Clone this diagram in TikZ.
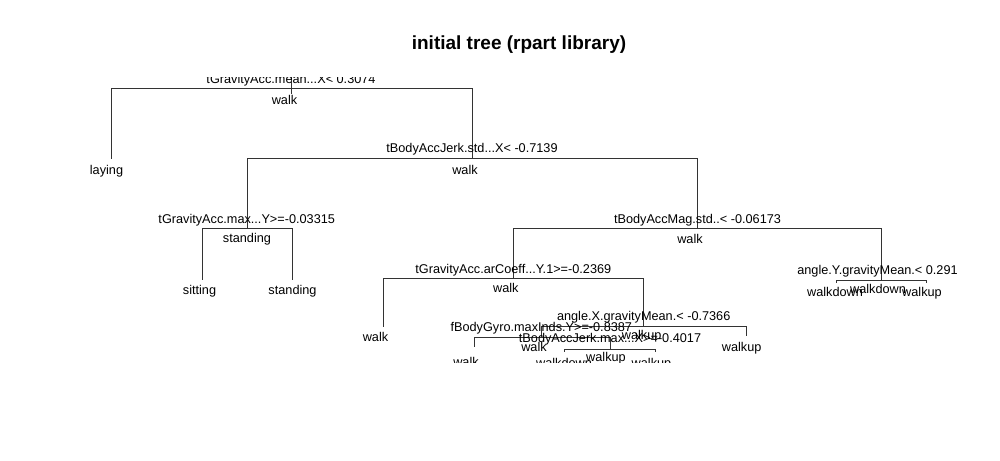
\documentclass[tikz,border=0pt]{standalone}
\usepackage{fontspec}
\setmainfont{Liberation Sans}
\begin{document}
\begin{tikzpicture}[x=1pt,y=-1pt,
  branch/.style={draw=black!80,line width=0.8pt},
  lbl/.style={anchor=base,inner sep=0pt,outer sep=0pt,font=\fontsize{12.7pt}{15pt}\selectfont},
  ttl/.style={anchor=base,inner sep=0pt,font=\fontsize{19pt}{22pt}\selectfont\bfseries}]
\useasboundingbox[fill=white] (0,0) rectangle (1000,460);
\node[ttl] (title) at (519,49.5) {initial tree (rpart library)};
\begin{scope}
\clip (0,77.7) rectangle (1000,362.7);
% node points
\coordinate (rootTop) at (291,70);
\coordinate (rootBot) at (291,94);
\coordinate (n1) at (291,88.3);
\coordinate (n2) at (111,158.5);
\coordinate (n3) at (472.3,158.5);
\coordinate (n6) at (247,228.5);
\coordinate (n7) at (697.7,228.5);
\coordinate (n12) at (202,280);
\coordinate (n13) at (292.7,280);
\coordinate (n14) at (513.3,278);
\coordinate (n15) at (881.7,280);
\coordinate (n28) at (383,327);
\coordinate (n29) at (643.5,326);
\coordinate (n30) at (836.7,283);
\coordinate (n31) at (926.7,283);
\coordinate (n58) at (541,337.5);
\coordinate (n59) at (746,336);
\coordinate (n116) at (474,347);
\coordinate (n117) at (610,349);
\coordinate (n234) at (564,352);
\coordinate (n235) at (655,352);
% branches
\draw[branch] (rootTop) -- (rootBot);
\draw[branch] (n1) -| (n2);
\draw[branch] (n1) -| (n3);
\draw[branch] (n3) -| (n6);
\draw[branch] (n3) -| (n7);
\draw[branch] (n6) -| (n12);
\draw[branch] (n6) -| (n13);
\draw[branch] (n7) -| (n14);
\draw[branch] (n7) -| (n15);
\draw[branch] (n14) -| (n28);
\draw[branch] (n14) -| (n29);
\draw[branch] (n15) -| (n30);
\draw[branch] (n15) -| (n31);
\draw[branch] (n29) -| (n58);
\draw[branch] (n29) -| (n59);
\draw[branch] (n58) -| (n116);
\draw[branch] (n58) -| (n117);
\draw[branch] (n117) -| (n234);
\draw[branch] (n117) -| (n235);
% split labels
\node[lbl] (s1) at (291,83.5) {tGravityAcc.mean...X< 0.3074};
\node[lbl] (s3) at (472,152.5) {tBodyAccJerk.std...X< -0.7139};
\node[lbl] (s6) at (246.7,223) {tGravityAcc.max...Y>=-0.03315};
\node[lbl] (s7) at (697.5,223) {tBodyAccMag.std..< -0.06173};
\node[lbl] (s14) at (513.3,273) {tGravityAcc.arCoeff...Y.1>=-0.2369};
\node[lbl] (s15) at (877.5,274.3) {angle.Y.gravityMean.< 0.291};
\node[lbl] (s29) at (643.7,320.7) {angle.X.gravityMean.< -0.7366};
\node[lbl] (s58) at (541.3,331.5) {fBodyGyro.maxInds.Y>=-0.8387};
\node[lbl] (s117) at (610,342) {tBodyAccJerk.max...X>=-0.4017};
% class labels
\node[lbl] (c1) at (284.5,104.5) {walk};
\node[lbl] (c2) at (106.5,174) {laying};
\node[lbl] (c3) at (465,174) {walk};
\node[lbl] (c6) at (247,242.5) {standing};
\node[lbl] (c7) at (690,243.3) {walk};
\node[lbl] (c12) at (199.5,294) {sitting};
\node[lbl] (c13) at (292.5,294) {standing};
\node[lbl] (c14) at (505.8,292.5) {walk};
\node[lbl] (c15) at (878,293.5) {walkdown};
\node[lbl] (c30) at (835,296.5) {walkdown};
\node[lbl] (c31) at (922,296.5) {walkup};
\node[lbl] (c28) at (375.5,341.5) {walk};
\node[lbl] (c29) at (641.7,339) {walkup};
\node[lbl] (c59) at (741.7,351) {walkup};
\node[lbl] (c58) at (534,351.5) {walk};
\node[lbl] (c116) at (466,366) {walk};
\node[lbl] (c117) at (606,361.5) {walkup};
\node[lbl] (c234) at (564,367.5) {walkdown};
\node[lbl] (c235) at (651.5,367.5) {walkup};
\end{scope}
\end{tikzpicture}
\end{document}
